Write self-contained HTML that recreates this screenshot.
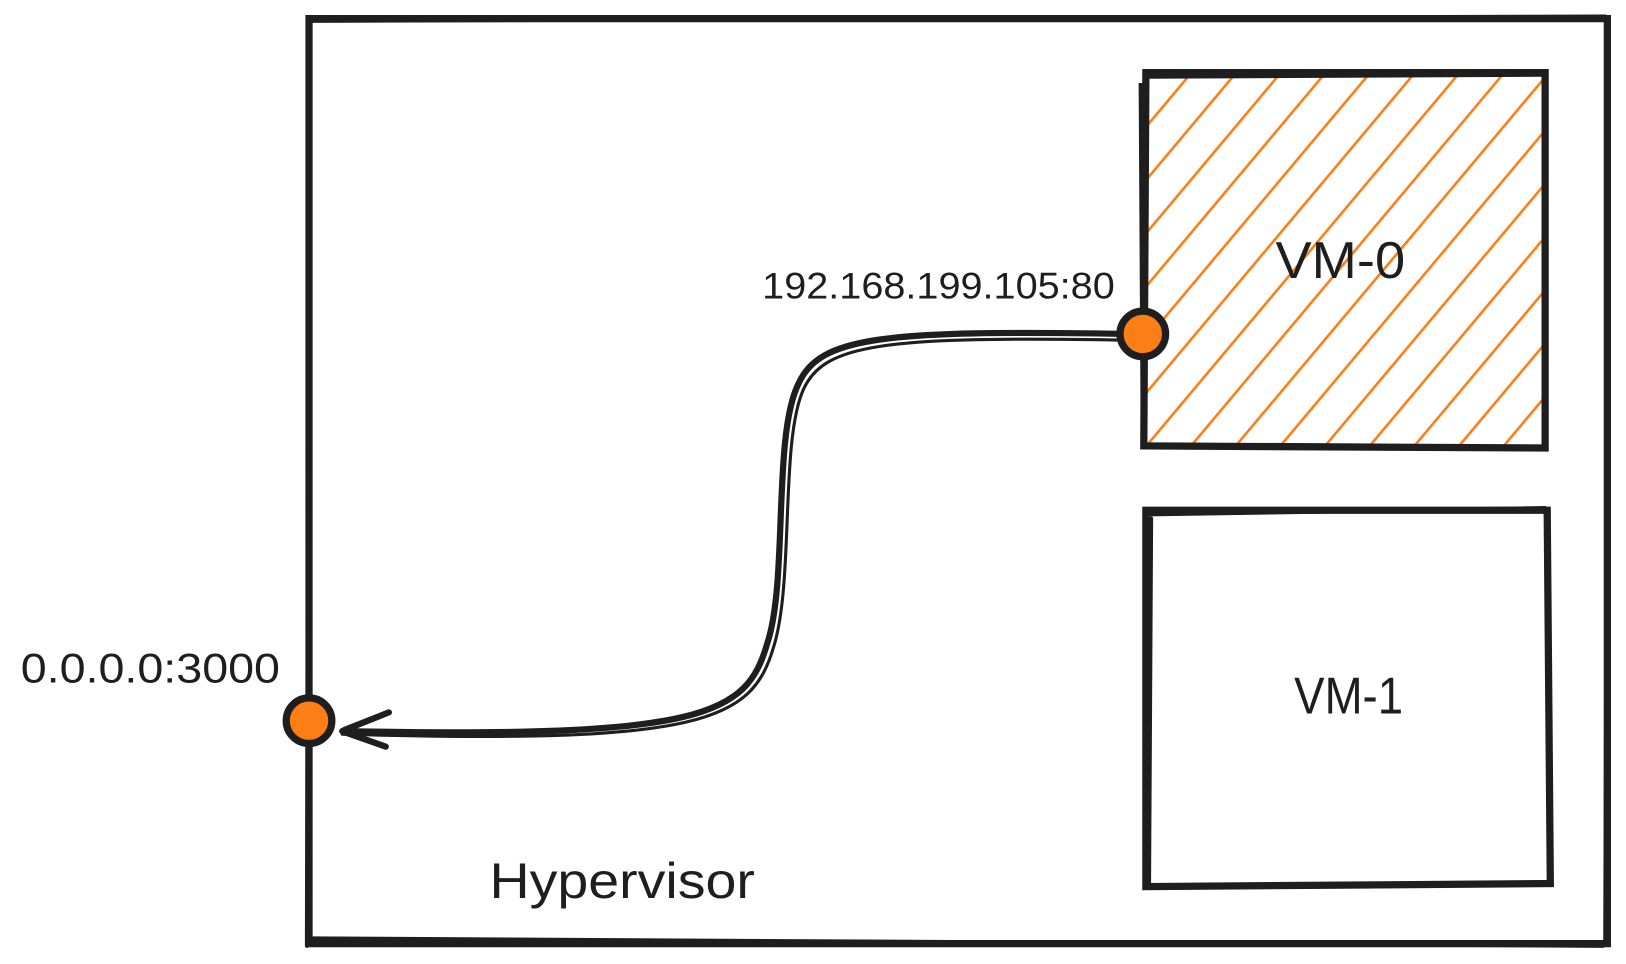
<!DOCTYPE html>
<html><head><meta charset="utf-8"><style>
html,body{margin:0;padding:0;background:#fff;width:1626px;height:964px;overflow:hidden}
svg{display:block}
text{font-family:"Liberation Sans",sans-serif;fill:#1e1e1e}
</style></head><body>
<svg width="1626" height="964" viewBox="0 0 1626 964">
<defs>
<pattern id="hatch" patternUnits="userSpaceOnUse" width="33" height="33" patternTransform="rotate(40)">
<line x1="0" y1="0" x2="0" y2="33" stroke="#fd7e14" stroke-width="5"/>
</pattern>
<clipPath id="vm0clip"><rect x="1105" y="72" width="385" height="358"/></clipPath>
</defs>
<g transform="scale(1.037)">
<g fill="none" stroke="#1e1e1e" stroke-width="7" stroke-linecap="round">
<path d="M298 18 L1550 18 L1550 910 L298 910 Z"/>
<path d="M300 20 L1548 16 M1551 20 L1548 908 M1546 912 L300 905 M296 912 L298 20" stroke-width="4"/>
</g>
<g>
<rect x="1105" y="72" width="385" height="358" fill="url(#hatch)" clip-path="url(#vm0clip)"/>
<path d="M1105 70 L1490 70 L1490 432 L1103 430 Z" fill="none" stroke="#1e1e1e" stroke-width="7" stroke-linecap="round"/>
<path d="M1108 74 L1488 72 M1100 80 L1102 428" fill="none" stroke="#1e1e1e" stroke-width="4"/>
</g>
<g fill="none" stroke="#1e1e1e" stroke-width="7" stroke-linecap="round">
<path d="M1105 492 L1492 492 L1495 852 L1105 855 Z"/>
<path d="M1108 496 L1490 490 M1110 500 L1108 852" stroke-width="4"/>
</g>
<g fill="none" stroke="#1e1e1e" stroke-linecap="round">
<path d="M1085 322 C 850 318, 790 325, 770 370 C 745 420, 760 560, 740 620 C 720 690, 680 712, 330 705" stroke-width="6"/>
<path d="M1085 328 C 850 324, 795 332, 775 375 C 752 425, 766 560, 746 624 C 725 695, 680 718, 330 708" stroke-width="3"/>
<path d="M332 704 L375 687 M332 706 L372 720" stroke-width="6"/>
</g>
<circle cx="1102" cy="322" r="22" fill="#fd7e14" stroke="#1e1e1e" stroke-width="7"/>
<circle cx="298" cy="695" r="22" fill="#fd7e14" stroke="#1e1e1e" stroke-width="7"/>
<text x="735" y="288" font-size="36" textLength="340" lengthAdjust="spacingAndGlyphs">192.168.199.105:80</text>
<text x="20" y="658" font-size="40" textLength="250" lengthAdjust="spacingAndGlyphs">0.0.0.0:3000</text>
<text x="1230" y="268" font-size="50" textLength="125" lengthAdjust="spacingAndGlyphs">VM-0</text>
<text x="1248" y="688" font-size="50" textLength="105" lengthAdjust="spacingAndGlyphs">VM-1</text>
<text x="472" y="866" font-size="48" textLength="256" lengthAdjust="spacingAndGlyphs">Hypervisor</text>
</g>
</svg>
</body></html>
